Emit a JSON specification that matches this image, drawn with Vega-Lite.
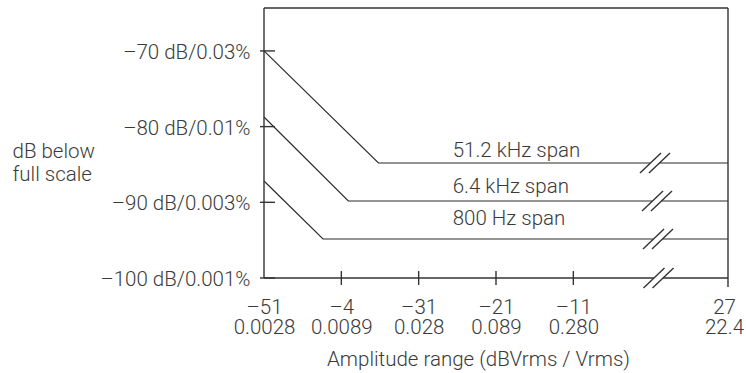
{
  "$schema": "https://vega.github.io/schema/vega-lite/v6.json",
  "width": 464,
  "height": 270,
  "autosize": "none",
  "padding": {"left": 264, "top": 8, "right": 18, "bottom": 95},
  "background": "white",
  "config": {
    "view": {"stroke": null},
    "font": "Roboto",
    "axis": {"labelFont": "Roboto", "titleFont": "Roboto", "labelFontWeight": 300, "titleFontWeight": 300, "labelColor": "#3a3a3a", "titleColor": "#3a3a3a", "labelFontSize": 20.5, "titleFontSize": 20.5, "grid": false, "ticks": false, "domain": false}
  },
  "datasets": {
    "lines": [
      {"series": "51.2 kHz", "seg": "a1", "x": 0, "y": -70},
      {"series": "51.2 kHz", "seg": "a1", "x": 1.48, "y": -84.81},
      {"series": "51.2 kHz", "seg": "a1", "x": 4.998, "y": -84.81},
      {"series": "51.2 kHz", "seg": "a2", "x": 5.114, "y": -84.81},
      {"series": "51.2 kHz", "seg": "a2", "x": 6, "y": -84.81},
      {"series": "6.4 kHz", "seg": "b1", "x": 0, "y": -78.73},
      {"series": "6.4 kHz", "seg": "b1", "x": 1.09, "y": -89.83},
      {"series": "6.4 kHz", "seg": "b1", "x": 5.024, "y": -89.83},
      {"series": "6.4 kHz", "seg": "b2", "x": 5.14, "y": -89.83},
      {"series": "6.4 kHz", "seg": "b2", "x": 6, "y": -89.83},
      {"series": "800 Hz", "seg": "c1", "x": 0, "y": -87.18},
      {"series": "800 Hz", "seg": "c1", "x": 0.763, "y": -94.85},
      {"series": "800 Hz", "seg": "c1", "x": 5.037, "y": -94.85},
      {"series": "800 Hz", "seg": "c2", "x": 5.153, "y": -94.85},
      {"series": "800 Hz", "seg": "c2", "x": 6, "y": -94.85}
    ],
    "segments": [
      {"part": "frame-left", "x": 0, "x2": 0, "y": -100, "y2": -64.33},
      {"part": "frame-top", "x": 0, "x2": 6, "y": -64.33, "y2": -64.33},
      {"part": "frame-right", "x": 6, "x2": 6, "y": -101.2, "y2": -64.33},
      {"part": "frame-bottom-a", "x": 0, "x2": 5.043, "y": -100, "y2": -100},
      {"part": "frame-bottom-b", "x": 5.16, "x2": 6, "y": -100, "y2": -100},
      {"part": "ytick", "x": -0.052, "x2": 0.142, "y": -70, "y2": -70},
      {"part": "ytick", "x": -0.052, "x2": 0.142, "y": -80, "y2": -80},
      {"part": "ytick", "x": -0.052, "x2": 0.142, "y": -90, "y2": -90},
      {"part": "ytick", "x": -0.052, "x2": 0.142, "y": -100, "y2": -100},
      {"part": "xtick", "x": 1, "x2": 1, "y": -100.92, "y2": -99.08},
      {"part": "xtick", "x": 2, "x2": 2, "y": -100.92, "y2": -99.08},
      {"part": "xtick", "x": 3, "x2": 3, "y": -100.92, "y2": -99.08},
      {"part": "xtick", "x": 4, "x2": 4, "y": -100.92, "y2": -99.08},
      {"part": "slash", "x": 4.862, "x2": 5.134, "y": -86.13, "y2": -83.49},
      {"part": "slash", "x": 4.978, "x2": 5.25, "y": -86.13, "y2": -83.49},
      {"part": "slash", "x": 4.888, "x2": 5.16, "y": -91.15, "y2": -88.51},
      {"part": "slash", "x": 5.004, "x2": 5.276, "y": -91.15, "y2": -88.51},
      {"part": "slash", "x": 4.901, "x2": 5.173, "y": -96.17, "y2": -93.53},
      {"part": "slash", "x": 5.017, "x2": 5.289, "y": -96.17, "y2": -93.53},
      {"part": "slash", "x": 4.907, "x2": 5.179, "y": -101.32, "y2": -98.68},
      {"part": "slash", "x": 5.024, "x2": 5.296, "y": -101.32, "y2": -98.68}
    ],
    "labels": [
      {"label": "51.2 kHz span", "x": 2.44, "y": -83.97},
      {"label": "6.4 kHz span", "x": 2.44, "y": -88.77},
      {"label": "800 Hz span", "x": 2.44, "y": -93.0}
    ]
  },
  "layer": [
    {
      "data": {"name": "lines"},
      "mark": {"type": "line", "stroke": "#2b2b2b", "strokeWidth": 1.2},
      "encoding": {
        "x": {"field": "x", "type": "quantitative", "scale": {"domain": [0, 6], "nice": false, "zero": false},
          "axis": {"values": [0, 1, 2, 3, 4, 6], "labelAngle": 0, "labelAlign": "center", "labelBaseline": "top", "labelPadding": 19, "labelLineHeight": 20.5,
            "labelOffset": {"condition": {"test": "datum.value == 6", "value": -4}, "value": 0},
            "labelExpr": "datum.value == 0 ? ['–51','0.0028'] : datum.value == 1 ? ['–4','0.0089'] : datum.value == 2 ? ['–31','0.028'] : datum.value == 3 ? ['–21','0.089'] : datum.value == 4 ? ['–11','0.280'] : ['27','22.4']",
            "title": "Amplitude range (dBVrms / Vrms)", "titleAnchor": "start", "titleAlign": "center", "titleX": 214, "titleY": 87, "titleBaseline": "alphabetic"}},
        "y": {"field": "y", "type": "quantitative", "scale": {"domain": [-100, -64.33], "nice": false, "zero": false},
          "axis": {"values": [-70, -80, -90, -100], "labelPadding": 14, "labelBaseline": "middle", "labelOffset": 1.5,
            "labelExpr": "datum.value == -70 ? '–70 dB/0.03%' : datum.value == -80 ? '–80 dB/0.01%' : datum.value == -90 ? '–90 dB/0.003%' : '–100 dB/0.001%'",
            "title": ["dB below", "full scale"], "titleAngle": 0, "titleAlign": "left", "titleBaseline": "alphabetic", "titleX": -252, "titleY": 149, "titleLineHeight": 23}},
        "detail": {"field": "seg"},
        "order": {"field": "x", "type": "quantitative"}
      }
    },
    {
      "data": {"name": "segments"},
      "mark": {"type": "rule", "stroke": "#333333", "strokeWidth": 1.4, "clip": false},
      "encoding": {
        "x": {"field": "x", "type": "quantitative"},
        "x2": {"field": "x2"},
        "y": {"field": "y", "type": "quantitative"},
        "y2": {"field": "y2"}
      }
    },
    {
      "data": {"name": "labels"},
      "mark": {"type": "text", "align": "left", "baseline": "alphabetic", "fontSize": 20.5, "font": "Roboto", "fontWeight": 300, "color": "#3a3a3a"},
      "encoding": {
        "x": {"field": "x", "type": "quantitative"},
        "y": {"field": "y", "type": "quantitative"},
        "text": {"field": "label"}
      }
    }
  ]
}
